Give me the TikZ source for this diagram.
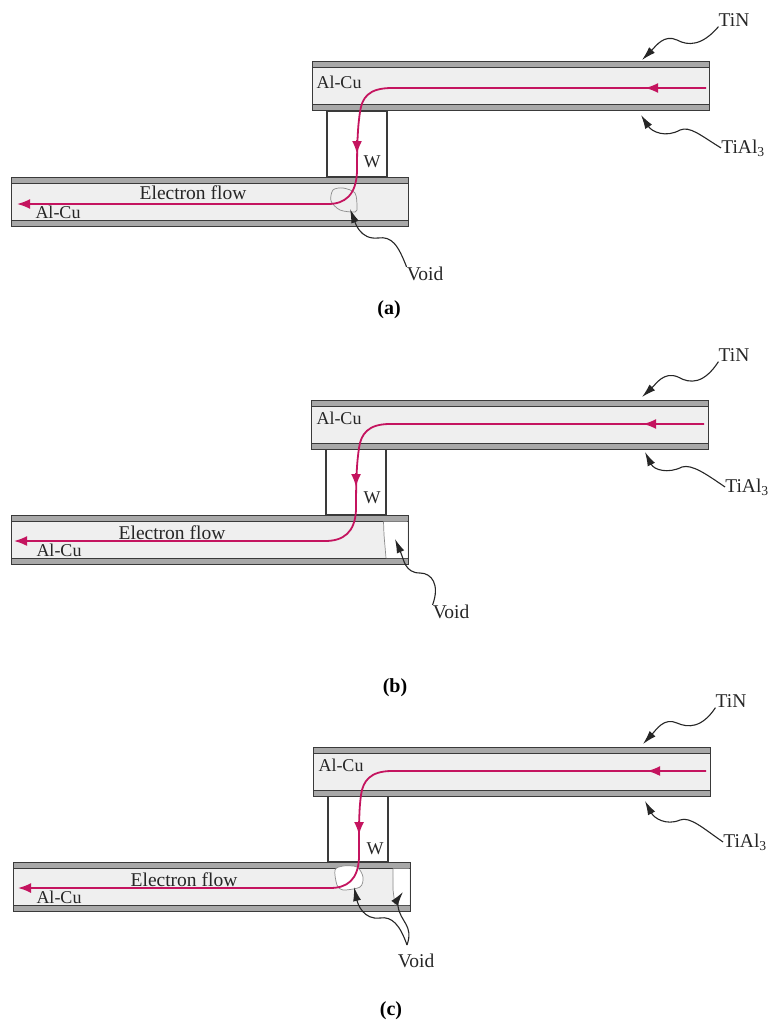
\documentclass[tikz,border=0pt]{standalone}
\usepackage{xcolor}
\usepackage{fontspec}
\setmainfont{Liberation Serif}
\usetikzlibrary{arrows.meta, positioning}

\definecolor{flowred}{HTML}{C4145F}
\definecolor{metalgray}{HTML}{EFEFEF}
\definecolor{layergray}{HTML}{A8A8A8}
\definecolor{edgegray}{HTML}{3A3A3A}

\begin{document}
\begin{tikzpicture}[x=1pt,y=-1pt,node distance=0pt]

\tikzstyle{alcu}=[rectangle,draw=edgegray,fill=metalgray,line width=1pt,minimum width=397pt,minimum height=37pt,outer sep=0pt,inner sep=0pt]
\tikzstyle{barrier}=[rectangle,draw=edgegray,fill=layergray,line width=1pt,minimum width=397pt,minimum height=6pt,outer sep=0pt,inner sep=0pt]
\tikzstyle{via}=[rectangle,draw=edgegray,fill=white,line width=1.1pt,minimum width=60pt,minimum height=66pt,outer sep=0pt]
\tikzstyle{txt}=[font=\fontsize{19.5}{22}\selectfont,inner sep=0pt,text=black!85]
\tikzstyle{small}=[font=\fontsize{18}{20}\selectfont,inner sep=0pt,text=black!85]
\tikzstyle{caption}=[font=\fontsize{20}{22}\selectfont\bfseries,inner sep=0pt]
\tikzstyle{flow}=[draw=flowred,line width=1.8pt]
\tikzstyle{flowhead}=[flow,-{Latex[length=13pt,width=10pt]}]
\tikzstyle{lead}=[draw=black!85,line width=1.1pt,-{Latex[length=14pt,width=8pt]}]
\tikzstyle{void}=[draw=black!45,line width=0.7pt]

\useasboundingbox (0,0) rectangle (768,1022);

% panel a
\node (viaA) [via] at (357,144) {};
\node (upperA) [alcu] at (510.5,86.5) {};
\node (tinA) [barrier,above=of upperA] {};
\node (tialA) [barrier,below=of upperA] {};
\node (lowerA) [alcu] at (210,201.5) {};
\node (tinAb) [barrier,above=of lowerA] {};
\node (tialAb) [barrier,below=of lowerA] {};
\draw[void] plot[smooth cycle] coordinates {(331,201) (333,190) (343,188) (355,193) (357,207) (355,212) (340,210)};

\node (alcuA) [small] at (339,82) {Al-Cu};
\node (alcuAb) [small] at (58,212.5) {Al-Cu};
\node (wA) [small] at (372,162) {W};
\node (flowA) [txt] at (193,193) {Electron flow};
\node (tinAl) [txt] at (734,20) {TiN};
\node (tialAl) [txt] at (743,148) {TiAl\textsubscript{3}};
\node (voidAl) [txt] at (425,274) {Void};
\node (capA) [caption] at (389,310) {(a)};

\coordinate (startA) at (706,88);
\coordinate (headA1) at (645,88);
\coordinate (headA2) at (357,154);
\coordinate (endA) at (17,204);
\coordinate (tinAt) at (642,60);
\coordinate (tialAt) at (641,115);
\coordinate (voidAt) at (350,209);

\draw[flowhead] (startA) -- (392,88) .. controls (368,88) and (362,98) .. (360,112) .. controls (358,125) and (357,140) .. (357,172) .. controls (356,195) and (345,204) .. (328,204) -- (endA);
\draw[flowhead] (660,88) -- (headA1);
\draw[flowhead] (357,140) -- (headA2);
\draw[lead] (tinAl.south west) .. controls (702,46) and (688,46) .. (677,40) .. controls (664,34) and (656,46) .. (tinAt);
\draw[lead] (tialAl.west) .. controls (700,135) and (690,126) .. (680,130) .. controls (666,138) and (652,132) .. (tialAt);
\draw[lead] (voidAl.north west) .. controls (398,245) and (392,236) .. (378,238) .. controls (360,240) and (355,222) .. (voidAt);

% panel b
\node (viaB) [via] at (356,482) {};
\node (upperB) [alcu] at (509.5,424.5) {};
\node (tinB) [barrier,above=of upperB] {};
\node (tialB) [barrier,below=of upperB] {};
\node (lowerB) [alcu] at (209.5,539.5) {};
\node (tinBb) [barrier,above=of lowerB] {};
\node (tialBb) [barrier,below=of lowerB] {};
\fill[white] (383.5,521.5) -- (386,558) -- (407.4,558) -- (407.4,521.5) -- cycle;
\draw[void] (383.5,521.5) -- (384,535) -- (386,558);

\node (alcuB) [small] at (339,418) {Al-Cu};
\node (alcuBb) [small] at (59,550) {Al-Cu};
\node (wB) [small] at (372,498) {W};
\node (flowB) [txt] at (172,533) {Electron flow};
\node (tinBl) [txt] at (734,355) {TiN};
\node (tialBl) [txt] at (747,487) {TiAl\textsubscript{3}};
\node (voidBl) [txt] at (451,612) {Void};
\node (capB) [caption] at (395,688) {(b)};

\coordinate (startB) at (704,424);
\coordinate (headB1) at (643,424);
\coordinate (headB2) at (356,487);
\coordinate (endB) at (14,541);
\coordinate (tinBt) at (642,397);
\coordinate (tialBt) at (645,452);
\coordinate (voidBt) at (395,539);

\draw[flowhead] (startB) -- (390,424) .. controls (368,424) and (361,434) .. (359,448) .. controls (357,462) and (356,475) .. (356,510) .. controls (355,532) and (344,541) .. (325,541) -- (endB);
\draw[flowhead] (658,424) -- (headB1);
\draw[flowhead] (356,473) -- (headB2);
\draw[lead] (tinBl.south west) .. controls (704,384) and (690,384) .. (678,377) .. controls (664,371) and (656,384) .. (tinBt);
\draw[lead] (tialBl.west) .. controls (706,474) and (692,464) .. (682,467) .. controls (668,474) and (654,470) .. (tialBt);
\draw[lead] (voidBl.north west) .. controls (440,585) and (432,573) .. (420,573) .. controls (405,573) and (404,560) .. (voidBt);

% panel c
\node (viaC) [via] at (358,829) {};
\node (upperC) [alcu] at (511.5,771.5) {};
\node (tinC) [barrier,above=of upperC] {};
\node (tialC) [barrier,below=of upperC] {};
\node (lowerC) [alcu] at (211.5,886.5) {};
\node (tinCb) [barrier,above=of lowerC] {};
\node (tialCb) [barrier,below=of lowerC] {};
\filldraw[void,fill=white] plot[smooth cycle] coordinates {(335,870) (343,866) (357,867) (363,877) (360,887) (343,890) (337,885)};
\fill[white] (393,868.5) -- (394,905) -- (409.4,905) -- (409.4,868.5) -- cycle;
\draw[void] (393,868.5) -- (393,890) -- (395,905);

\node (alcuC) [small] at (341,765) {Al-Cu};
\node (alcuCb) [small] at (59,897.5) {Al-Cu};
\node (wC) [small] at (375,849) {W};
\node (flowC) [txt] at (184,880) {Electron flow};
\node (tinCl) [txt] at (731,701) {TiN};
\node (tialCl) [txt] at (745,842) {TiAl\textsubscript{3}};
\node (voidCl) [txt] at (416,961) {Void};
\node (capC) [caption] at (391,1011) {(c)};

\coordinate (startC) at (706,771);
\coordinate (headC1) at (647,771);
\coordinate (headC2) at (359,835);
\coordinate (endC) at (18,888);
\coordinate (tinCt) at (643,744);
\coordinate (tialCt) at (645,801);
\coordinate (voidCt1) at (354,887);
\coordinate (voidCt2) at (403,892);
\coordinate (voidCs) at (407,945);

\draw[flowhead] (startC) -- (392,771) .. controls (370,771) and (363,781) .. (361,795) .. controls (359,810) and (359,822) .. (359,858) .. controls (358,880) and (347,888) .. (330,888) -- (endC);
\draw[flowhead] (662,771) -- (headC1);
\draw[flowhead] (359,821) -- (headC2);
\draw[lead] (tinCl.south west) .. controls (702,728) and (688,728) .. (677,723) .. controls (664,717) and (656,730) .. (tinCt);
\draw[lead] (tialCl.west) .. controls (704,829) and (690,816) .. (680,820) .. controls (666,826) and (654,818) .. (tialCt);
\draw[lead] (voidCs) .. controls (400,925) and (392,916) .. (380,918) .. controls (364,920) and (358,905) .. (voidCt1);
\draw[lead] (voidCs) .. controls (414,925) and (400,922) .. (398,906) .. controls (397,900) and (400,896) .. (voidCt2);

\end{tikzpicture}
\end{document}
